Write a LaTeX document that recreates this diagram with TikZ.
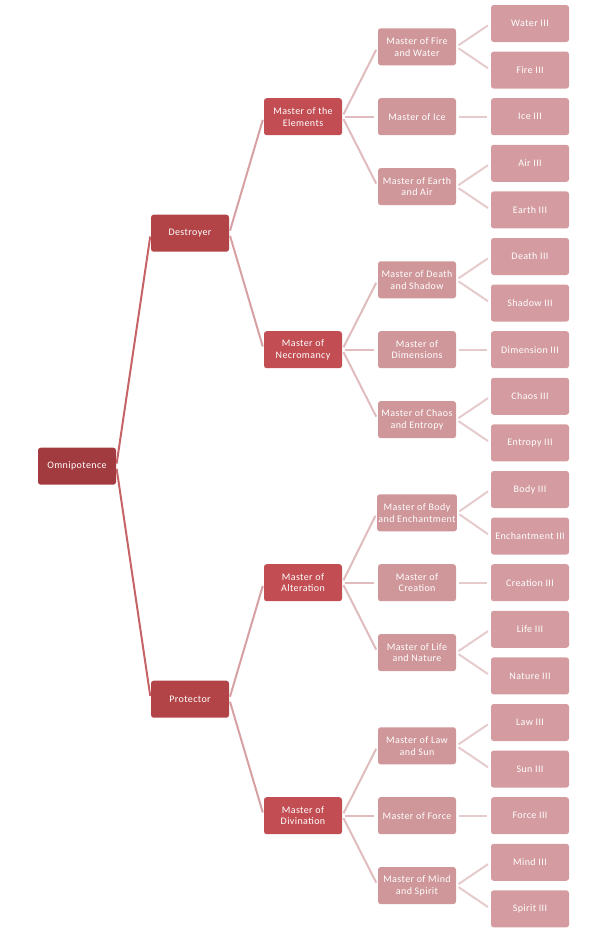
\documentclass[tikz,border=0pt]{standalone}
\usepackage{fontspec}
\setmainfont[LetterSpace=4]{Carlito}
\usepackage{xcolor}
\definecolor{boxa}{HTML}{A23B3F}
\definecolor{boxb}{HTML}{B24447}
\definecolor{boxc}{HTML}{C24E53}
\definecolor{boxd}{HTML}{D0979A}
\definecolor{boxe}{HTML}{D49CA0}
\definecolor{linkab}{HTML}{C66367}
\definecolor{linkbc}{HTML}{D7A0A3}
\definecolor{linkcd}{HTML}{E0BCBE}
\definecolor{linkde}{HTML}{E6CBCC}

\begin{document}
\begin{tikzpicture}[x=0.75pt, y=-0.75pt,
    tier/.style={rounded corners=2pt, minimum width=58.5pt, minimum height=27.75pt,
      inner sep=1pt, align=center, text=white, font=\fontsize{7.5}{8.8}\selectfont},
    tiera/.style={tier, fill=boxa},
    tierb/.style={tier, fill=boxb},
    tierc/.style={tier, fill=boxc},
    tierd/.style={tier, fill=boxd},
    tiere/.style={tier, fill=boxe},
    link/.style={line width=1.5pt, shorten <=2pt, shorten >=2.5pt}]
  \useasboundingbox (0,0) rectangle (595,933);

  % root and the two branches
  \node[tiera] (omni) at (77,466.2) {Omnipotence};
  \node[tierb] (destroyer) at (190,233.2) {Destroyer};
  \node[tierb] (protector) at (190,699.2) {Protector};

  % third tier
  \node[tierc] (elements) at (303,116.7) {Master of the\\Elements};
  \node[tierc] (necro) at (303,349.7) {Master of\\Necromancy};
  \node[tierc] (alter) at (303,582.7) {Master of\\Alteration};
  \node[tierc] (divin) at (303,815.7) {Master of\\Divination};

  % fourth tier
  \node[tierd] (firewater) at (417,46.8) {Master of Fire\\and Water};
  \node[tierd] (ice) at (417,116.7) {Master of Ice};
  \node[tierd] (earthair) at (417,186.6) {Master of Earth\\and Air};
  \node[tierd] (deathshadow) at (417,279.8) {Master of Death\\and Shadow};
  \node[tierd] (dimension) at (417,349.7) {Master of\\Dimensions};
  \node[tierd] (chaosentropy) at (417,419.6) {Master of Chaos\\and Entropy};
  \node[tierd] (bodyench) at (417,512.8) {Master of Body\\and Enchantment};
  \node[tierd] (creation) at (417,582.7) {Master of\\Creation};
  \node[tierd] (lifenature) at (417,652.6) {Master of Life\\and Nature};
  \node[tierd] (lawsun) at (417,745.8) {Master of Law\\and Sun};
  \node[tierd] (force) at (417,815.7) {Master of Force};
  \node[tierd] (mindspirit) at (417,885.6) {Master of Mind\\and Spirit};

  % leaves
  \node[tiere] (water3) at (530,23.5) {Water III};
  \node[tiere] (fire3) at (530,70.1) {Fire III};
  \node[tiere] (ice3) at (530,116.7) {Ice III};
  \node[tiere] (air3) at (530,163.3) {Air III};
  \node[tiere] (earth3) at (530,209.9) {Earth III};
  \node[tiere] (death3) at (530,256.5) {Death III};
  \node[tiere] (shadow3) at (530,303.1) {Shadow III};
  \node[tiere] (dimension3) at (530,349.7) {Dimension III};
  \node[tiere] (chaos3) at (530,396.3) {Chaos III};
  \node[tiere] (entropy3) at (530,442.9) {Entropy III};
  \node[tiere] (body3) at (530,489.5) {Body III};
  \node[tiere] (ench3) at (530,536.1) {Enchantment III};
  \node[tiere] (creation3) at (530,582.7) {Creation III};
  \node[tiere] (life3) at (530,629.3) {Life III};
  \node[tiere] (nature3) at (530,675.9) {Nature III};
  \node[tiere] (law3) at (530,722.5) {Law III};
  \node[tiere] (sun3) at (530,769.1) {Sun III};
  \node[tiere] (force3) at (530,815.7) {Force III};
  \node[tiere] (mind3) at (530,862.3) {Mind III};
  \node[tiere] (spirit3) at (530,908.9) {Spirit III};

  % connectors
  \foreach \c in {destroyer,protector}
    \draw[link, linkab] (omni.east) -- (\c.west);
  \foreach \c in {elements,necro}
    \draw[link, linkbc] (destroyer.east) -- (\c.west);
  \foreach \c in {alter,divin}
    \draw[link, linkbc] (protector.east) -- (\c.west);
  \foreach \c in {firewater,ice,earthair}
    \draw[link, linkcd] (elements.east) -- (\c.west);
  \foreach \c in {deathshadow,dimension,chaosentropy}
    \draw[link, linkcd] (necro.east) -- (\c.west);
  \foreach \c in {bodyench,creation,lifenature}
    \draw[link, linkcd] (alter.east) -- (\c.west);
  \foreach \c in {lawsun,force,mindspirit}
    \draw[link, linkcd] (divin.east) -- (\c.west);
  \foreach \p/\c in {firewater/water3, firewater/fire3, ice/ice3, earthair/air3,
      earthair/earth3, deathshadow/death3, deathshadow/shadow3, dimension/dimension3,
      chaosentropy/chaos3, chaosentropy/entropy3, bodyench/body3, bodyench/ench3,
      creation/creation3, lifenature/life3, lifenature/nature3, lawsun/law3,
      lawsun/sun3, force/force3, mindspirit/mind3, mindspirit/spirit3}
    \draw[link, linkde] (\p.east) -- (\c.west);
\end{tikzpicture}
\end{document}
